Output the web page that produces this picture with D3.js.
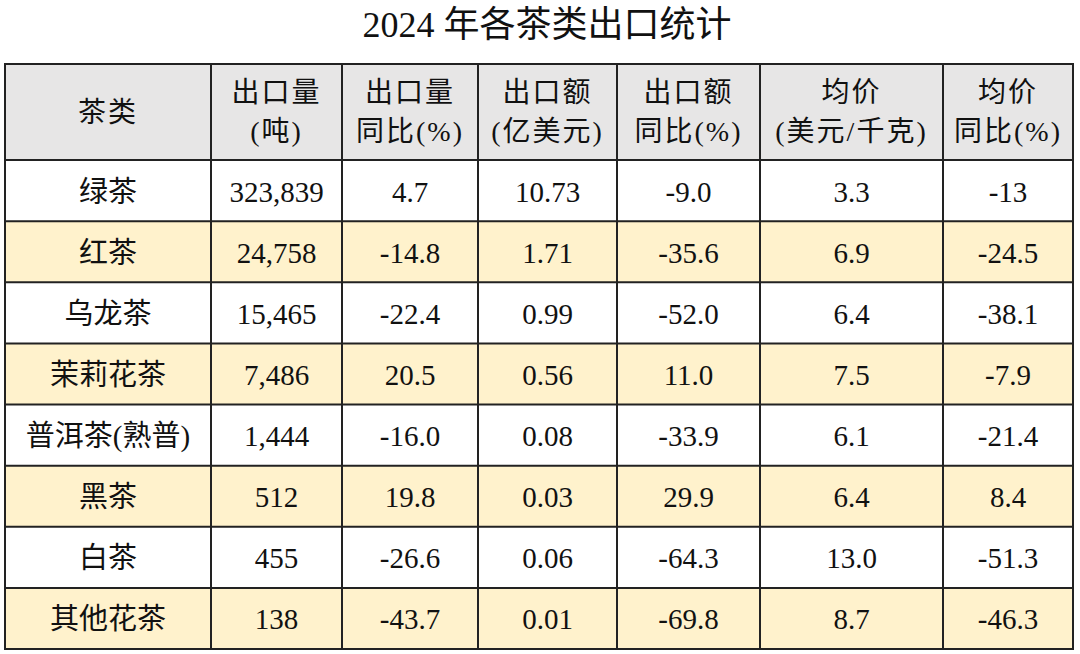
<!DOCTYPE html>
<html>
<head>
<meta charset="utf-8">
<script src="https://cdn.jsdelivr.net/npm/d3@7"></script>
<style>
  body { margin: 0; background: #fff; }
  text { font-family: "Liberation Serif", "Noto Sans CJK SC", serif; fill: #111; }
</style>
</head>
<body>
<div id="chart"></div>
<script>
// table contents
var headers = [
  ["茶类"],
  ["出口量", "(吨)"],
  ["出口量", "同比(%)"],
  ["出口额", "(亿美元)"],
  ["出口额", "同比(%)"],
  ["均价", "(美元/千克)"],
  ["均价", "同比(%)"]
];
var teaTypes = ["绿茶", "红茶", "乌龙茶", "茉莉花茶", "普洱茶(熟普)", "黑茶", "白茶", "其他花茶"];
var volume = ["323,839", "24,758", "15,465", "7,486", "1,444", "512", "455", "138"];
var volumeYoy = ["4.7", "-14.8", "-22.4", "20.5", "-16.0", "19.8", "-26.6", "-43.7"];
var value = ["10.73", "1.71", "0.99", "0.56", "0.08", "0.03", "0.06", "0.01"];
var valueYoy = ["-9.0", "-35.6", "-52.0", "11.0", "-33.9", "29.9", "-64.3", "-69.8"];
var price = ["3.3", "6.9", "6.4", "7.5", "6.1", "6.4", "13.0", "8.7"];
var priceYoy = ["-13", "-24.5", "-38.1", "-7.9", "-21.4", "8.4", "-51.3", "-46.3"];

var columns = [teaTypes, volume, volumeYoy, value, valueYoy, price, priceYoy];
var rows = teaTypes.map((t, i) => columns.map(c => c[i]));

var width = 1080, height = 654;
var colWidths = [206, 131, 136, 139, 143, 183, 130];
var tblLeft = 5, tblTop = 64, headH = 96, tblBottom = 649;

var colEdges = [tblLeft].concat(Array.from(d3.cumsum(colWidths), d => d + tblLeft));
var tblRight = colEdges[colEdges.length - 1];
var x = i => colEdges[i];
var y = d3.scaleBand().domain(d3.range(rows.length)).range([tblTop + headH, tblBottom]);

var svg = d3.select("#chart").append("svg")
  .attr("width", width)
  .attr("height", height);

svg.append("text")
  .attr("x", 547)
  .attr("y", 25)
  .attr("text-anchor", "middle")
  .attr("dominant-baseline", "central")
  .style("font-size", "36px")
  .text("2024 年各茶类出口统计");

// header
var head = svg.selectAll(".head")
  .data(headers)
  .enter().append("g")
  .attr("class", "head");

head.append("rect")
  .attr("x", (d, i) => x(i))
  .attr("y", tblTop)
  .attr("width", (d, i) => colWidths[i])
  .attr("height", headH)
  .attr("fill", "#e7e6e6");

head.each(function(d, i) {
  var g = d3.select(this);
  var cx = x(i) + colWidths[i] / 2;
  var cy = tblTop + headH / 2;
  var lh = 39;
  d.forEach((line, k) => {
    g.append("text")
      .attr("x", cx)
      .attr("y", cy + (k - (d.length - 1) / 2) * lh)
      .attr("text-anchor", "middle")
      .attr("dominant-baseline", "central")
      .style("font-size", "28px")
      .style("letter-spacing", "2px")
      .text(line);
  });
});

// body rows
var row = svg.selectAll(".row")
  .data(rows)
  .enter().append("g")
  .attr("class", "row")
  .attr("transform", (d, i) => `translate(0,${y(i)})`);

row.append("rect")
  .attr("x", tblLeft)
  .attr("y", 0)
  .attr("width", tblRight - tblLeft)
  .attr("height", y.bandwidth())
  .attr("fill", (d, i) => i % 2 ? "#fff2cc" : "#ffffff");

row.selectAll("text")
  .data(d => d)
  .enter().append("text")
  .attr("x", (d, i) => x(i) + colWidths[i] / 2)
  .attr("y", y.bandwidth() / 2 + 1)
  .attr("text-anchor", "middle")
  .attr("dominant-baseline", "central")
  .style("font-size", "29px")
  .text(d => d);

// grid lines
var grid = svg.append("g")
  .attr("stroke", "#222")
  .attr("stroke-width", 2);

grid.selectAll(".v")
  .data(colEdges)
  .enter().append("line")
  .attr("x1", d => d).attr("x2", d => d)
  .attr("y1", tblTop).attr("y2", tblBottom);

var rowEdges = [tblTop].concat(d3.range(rows.length).map(i => y(i))).concat([tblBottom]);
grid.selectAll(".h")
  .data(rowEdges)
  .enter().append("line")
  .attr("x1", tblLeft - 1).attr("x2", tblRight + 1)
  .attr("y1", d => d).attr("y2", d => d);
</script>
</body>
</html>
